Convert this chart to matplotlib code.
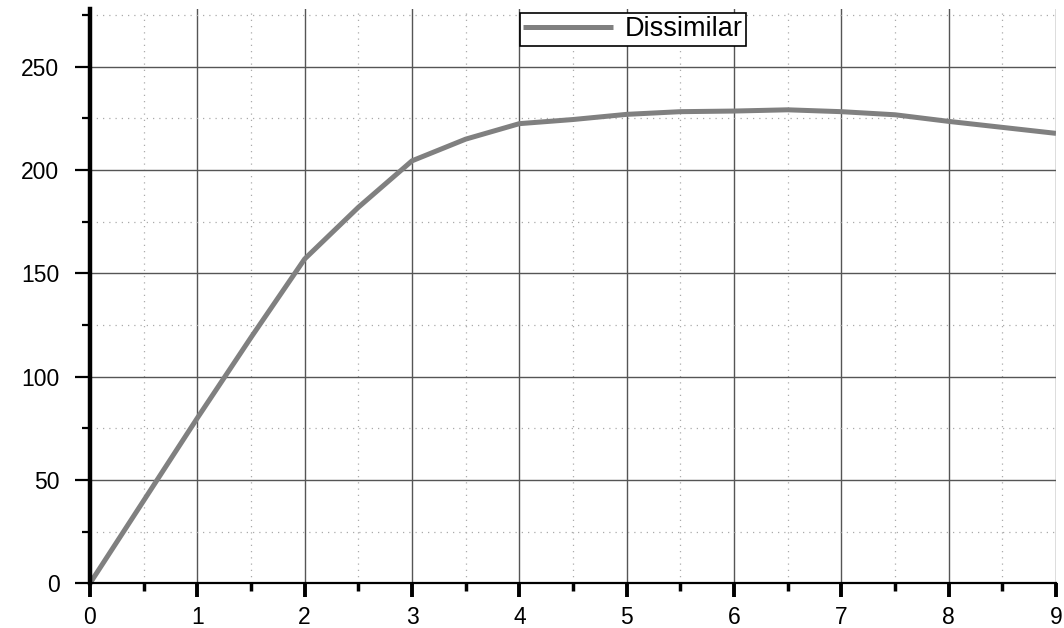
import matplotlib
matplotlib.use("Agg")
import matplotlib.pyplot as plt
from matplotlib.ticker import MultipleLocator

plt.rcParams['font.family'] = ['Liberation Sans', 'DejaVu Sans']

x_values = [0, 0.5, 1, 1.5, 2, 2.5, 3, 3.5, 4, 4.5, 5, 5.5, 6, 6.5, 7, 7.5, 8, 8.5, 9]
y_values = [0, 40, 80, 119, 157, 182, 204.5, 215, 222.5, 224.5, 227, 228.3, 228.6, 229.2, 228.3, 226.8, 223.6, 220.7, 217.8]
series_name = "Dissimilar"

fig = plt.figure(figsize=(10.64, 6.28), dpi=100)
ax = fig.add_axes([90/1064, (628-583.3)/628, 966/1064, 574.3/628])

ax.plot(x_values, y_values, color='#808080', linewidth=3.6, label=series_name,
        solid_capstyle='butt', zorder=3)

ax.set_xlim(0, 9)
ax.set_ylim(0, 278)
ax.xaxis.set_major_locator(MultipleLocator(1))
ax.xaxis.set_minor_locator(MultipleLocator(0.5))
ax.yaxis.set_major_locator(MultipleLocator(50))
ax.yaxis.set_minor_locator(MultipleLocator(25))

ax.grid(which='major', color='#555555', linewidth=1.0, linestyle='-')
ax.grid(which='minor', color='#aaaaaa', linewidth=0.9, linestyle=(0, (1, 4)))
ax.set_axisbelow(True)

for s in ['top', 'right']:
    ax.spines[s].set_visible(False)
ax.spines['left'].set_linewidth(3.2)
ax.spines['bottom'].set_linewidth(1.6)
ax.spines['left'].set_zorder(4)
ax.spines['bottom'].set_zorder(4)

ax.tick_params(axis='both', which='major', direction='out', length=10, width=2.8,
               labelsize=16.5, color='black')
ax.tick_params(axis='both', which='minor', direction='out', length=6, width=2.5, color='black')
ax.tick_params(axis='y', which='major', pad=11)
ax.tick_params(axis='x', which='major', pad=6)
ax.tick_params(axis='y', which='major', length=11, width=1.6)
ax.tick_params(axis='y', which='minor', length=6, width=1.6)

leg = ax.legend(loc='upper left', bbox_to_anchor=(430/966, 1 - 4/574.3), fontsize=19.5,
                frameon=True, fancybox=False, edgecolor='black', framealpha=1,
                handlelength=3.3, handletextpad=0.45, borderpad=0.12, borderaxespad=0)
leg.get_frame().set_linewidth(1.2)

fig.savefig('out.png', dpi=100)
